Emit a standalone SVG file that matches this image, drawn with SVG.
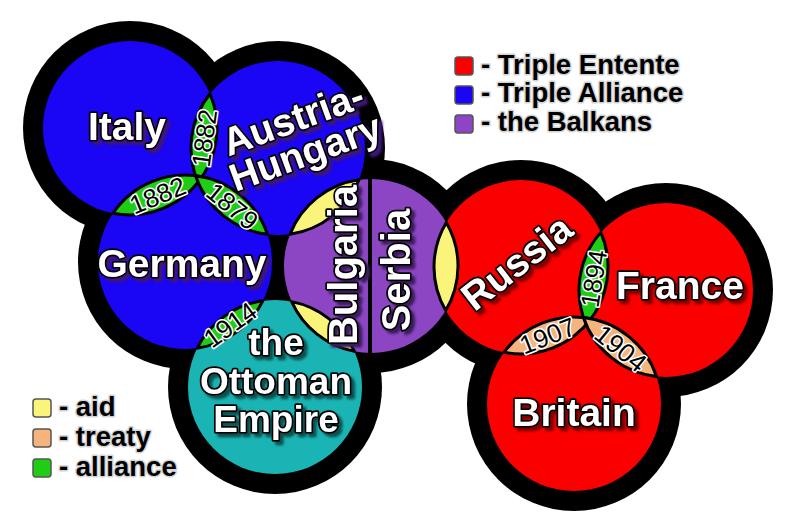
<svg xmlns="http://www.w3.org/2000/svg" width="800" height="528" viewBox="0 0 800 528">
<defs>
<style>
.ring{fill:#000}
.blue{fill:#1a05f5}
.red{fill:#fa0000}
.purple{fill:#8c46c3}
.teal{fill:#1ab4b4}
.lens{stroke:#000;stroke-width:3;stroke-linejoin:round}
.aid{fill:#faf57a}
.treaty{fill:#f5b47d}
.alliance{fill:#1ecd14}
.label{font-family:"Liberation Sans",Arial,sans-serif;font-weight:bold;font-size:39px;fill:#fff;stroke:#000;stroke-width:3.5px;paint-order:stroke;stroke-linejoin:round;text-anchor:middle}
.year{font-family:"Liberation Sans",Arial,sans-serif;font-size:26px;fill:#000;stroke:#fff;stroke-width:3px;paint-order:stroke;stroke-linejoin:round;text-anchor:middle}
.legend{font-family:"Liberation Sans",Arial,sans-serif;font-weight:bold;font-size:27.5px;fill:#000;stroke:#d4d4d4;stroke-width:3px;paint-order:stroke;stroke-linejoin:round}
.box{stroke:#555;stroke-width:1.5}
</style>
<filter id="shBlue" x="-20%" y="-20%" width="140%" height="140%"><feDropShadow dx="3.5" dy="3.5" stdDeviation="1.2" flood-color="#3c1478"/></filter>
<filter id="shRed" x="-20%" y="-20%" width="140%" height="140%"><feDropShadow dx="3.5" dy="3.5" stdDeviation="1.2" flood-color="#800000"/></filter>
<filter id="shPurple" x="-20%" y="-20%" width="140%" height="140%"><feDropShadow dx="3.5" dy="3.5" stdDeviation="1.2" flood-color="#3a1a5a"/></filter>
<filter id="shTeal" x="-20%" y="-20%" width="140%" height="140%"><feDropShadow dx="3.5" dy="3.5" stdDeviation="1.2" flood-color="#0a5050"/></filter>
</defs>
<rect width="800" height="528" fill="#fff"/>

<g id="rings">
<circle class="ring" cx="130" cy="128" r="107"/>
<circle class="ring" cx="278" cy="148" r="107"/>
<circle class="ring" cx="185" cy="262" r="107"/>
<circle class="ring" cx="371" cy="266" r="107"/>
<circle class="ring" cx="275" cy="387" r="107"/>
<circle class="ring" cx="521" cy="267" r="107"/>
<circle class="ring" cx="666" cy="290" r="107"/>
<circle class="ring" cx="574" cy="404" r="107"/>
</g>

<g id="fills">
<circle id="italy-disk" class="blue" cx="130" cy="128" r="87"/>
<circle id="austria-hungary-disk" class="blue" cx="278" cy="148" r="87"/>
<circle id="germany-disk" class="blue" cx="185" cy="262" r="87"/>
<path id="bulgaria-disk" class="purple" d="M371,179 A87,87 0 0 0 371,353 Z"/>
<path id="serbia-disk" class="purple" d="M371,179 A87,87 0 0 1 371,353 Z"/>
<circle id="ottoman-disk" class="teal" cx="275" cy="387" r="87"/>
<circle id="russia-disk" class="red" cx="521" cy="267" r="87"/>
<circle id="france-disk" class="red" cx="666" cy="290" r="87"/>
<circle id="britain-disk" class="red" cx="574" cy="404" r="87"/>
</g>

<g id="connectors">
<path class="lens alliance" d="M198.02,182.25 A87,87 0 0 1 209.98,93.75 A87,87 0 0 1 198.02,182.25Z"/>
<path class="lens alliance" d="M112.91,213.3 A87,87 0 0 1 202.09,176.7 A87,87 0 0 1 112.91,213.3Z"/>
<path class="lens alliance" d="M195.5,175.64 A87,87 0 0 1 267.5,234.36 A87,87 0 0 1 195.5,175.64Z"/>
<path class="lens aid" d="M290.03,234.17 A87,87 0 0 1 358.97,179.83 A87,87 0 0 1 290.03,234.17Z"/>
<path class="lens alliance" d="M197.16,348.15 A87,87 0 0 1 262.84,300.85 A87,87 0 0 1 197.16,348.15Z"/>
<path class="lens aid" d="M291.62,301.6 A87,87 0 0 1 354.38,351.4 A87,87 0 0 1 291.62,301.6Z"/>
<path class="lens aid" d="M445.71,310.59 A87,87 0 0 1 446.29,222.41 A87,87 0 0 1 445.71,310.59Z"/>
<path class="lens alliance" d="M586.18,324.62 A87,87 0 0 1 600.82,232.38 A87,87 0 0 1 586.18,324.62Z"/>
<path class="lens treaty" d="M504.01,352.32 A87,87 0 0 1 590.99,318.68 A87,87 0 0 1 504.01,352.32Z"/>
<path class="lens treaty" d="M583.47,317.52 A87,87 0 0 1 656.53,376.48 A87,87 0 0 1 583.47,317.52Z"/>
<line x1="370" y1="172" x2="370" y2="360" stroke="#000" stroke-width="4"/>
<text class="year" transform="translate(204,138) rotate(-82.3)" dy="0.36em">1882</text>
<text class="year" transform="translate(157.5,195) rotate(-22.3)" dy="0.36em">1882</text>
<text class="year" transform="translate(232.5,206) rotate(39.2)" dy="0.36em">1879</text>
<text class="year" transform="translate(230,324.5) rotate(-35.8)" dy="0.36em">1914</text>
<text class="year" transform="translate(593.5,278.5) rotate(-81)" dy="0.36em">1894</text>
<text class="year" transform="translate(547.5,335.5) rotate(-21.1)" dy="0.36em">1907</text>
<text class="year" transform="translate(621,348) rotate(38.9)" dy="0.36em">1904</text>
</g>

<g id="italy" filter="url(#shBlue)"><text class="label" x="127" y="140">Italy</text></g>
<g id="austria-hungary" filter="url(#shBlue)"><text class="label" transform="translate(299,135) rotate(-20)"><tspan x="0" y="-4">Austria-</tspan><tspan x="0" y="32">Hungary</tspan></text></g>
<g id="germany" filter="url(#shBlue)"><text class="label" x="182" y="277">Germany</text></g>
<g id="bulgaria" filter="url(#shPurple)"><text class="label" style="font-size:40px" transform="translate(357,265) rotate(-90)">Bulgaria</text></g>
<g id="serbia" filter="url(#shPurple)"><text class="label" style="font-size:40px" transform="translate(410,270) rotate(-90)">Serbia</text></g>
<g id="ottoman-empire" filter="url(#shTeal)"><text class="label" style="font-size:37px"><tspan x="276" y="355">the</tspan><tspan x="276" y="394">Ottoman</tspan><tspan x="276" y="432">Empire</tspan></text></g>
<g id="russia" filter="url(#shRed)"><text class="label" transform="translate(525,273) rotate(-38)">Russia</text></g>
<g id="france" filter="url(#shRed)"><text class="label" x="680" y="299">France</text></g>
<g id="britain" filter="url(#shRed)"><text class="label" x="574" y="426">Britain</text></g>

<g id="legend-blocs">
<rect class="box red" x="455" y="57" width="18" height="18" rx="3"/>
<rect class="box blue" x="455" y="86" width="18" height="18" rx="3"/>
<rect class="box purple" x="455" y="115" width="18" height="18" rx="3"/>
<text class="legend" x="481" y="74">- Triple Entente</text>
<text class="legend" x="481" y="102">- Triple Alliance</text>
<text class="legend" x="481" y="131">- the Balkans</text>
</g>
<g id="legend-links">
<rect class="box aid" x="33" y="399" width="18" height="18" rx="3"/>
<rect class="box treaty" x="33" y="429" width="18" height="18" rx="3"/>
<rect class="box alliance" x="33" y="459" width="18" height="18" rx="3"/>
<text class="legend" x="59" y="416">- aid</text>
<text class="legend" x="59" y="446">- treaty</text>
<text class="legend" x="59" y="476">- alliance</text>
</g>
</svg>
